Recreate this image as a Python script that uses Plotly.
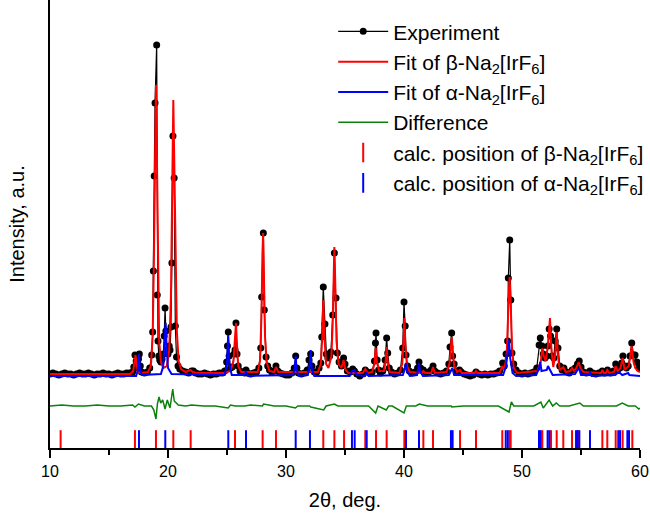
import plotly.graph_objects as go

# ---- data (2theta in deg, intensity in arbitrary units) ----
experiment_pts = [
    (10.0, 2), (10.25, 3), (10.5, 2), (10.75, 1), (11.0, 2), (11.25, 3), (11.5, 2), (11.75, 2),
    (12.0, 1), (12.25, 2), (12.5, 3), (12.75, 2), (13.0, 2), (13.25, 3), (13.5, 2), (13.75, 1),
    (14.0, 2), (14.25, 2), (14.5, 3), (14.75, 2), (15.0, 2), (15.25, 1), (15.5, 2), (15.75, 3),
    (16.0, 2), (16.25, 2), (16.5, 3), (16.75, 3),
    (17.0, 4), (17.1, 9), (17.2, 21), (17.3, 15), (17.4, 8), (17.5, 17), (17.57, 22), (17.65, 10),
    (17.75, 4), (18.0, 3), (18.25, 4), (18.45, 8), (18.62, 21), (18.7, 44), (18.76, 105),
    (18.83, 200), (18.9, 273), (19.04, 331), (19.09, 81), (19.15, 35), (19.22, 20), (19.3, 16),
    (19.4, 14), (19.5, 17), (19.6, 22), (19.68, 40), (19.75, 68), (19.82, 45), (19.9, 26),
    (20.0, 22), (20.1, 30), (20.17, 26), (20.25, 49), (20.33, 113), (20.42, 240), (20.52, 198),
    (20.62, 50), (20.72, 19), (20.85, 10), (21.0, 7), (21.25, 5), (21.5, 4), (21.75, 3),
    (22.0, 5), (22.15, 5), (22.35, 3), (22.6, 2), (22.85, 2), (23.1, 3), (23.35, 2), (23.6, 1),
    (23.85, 2), (24.1, 2), (24.35, 3), (24.6, 3), (24.8, 5), (24.97, 14), (25.04, 30),
    (25.11, 44), (25.18, 20), (25.3, 8), (25.45, 9), (25.6, 22), (25.68, 26), (25.76, 53),
    (25.85, 22), (25.95, 10), (26.1, 5), (26.3, 4), (26.5, 3), (26.61, 6), (26.75, 3), (27.0, 2),
    (27.25, 3), (27.5, 4), (27.7, 8), (27.86, 28), (27.94, 79), (28.08, 143), (28.16, 66),
    (28.31, 19), (28.45, 10), (28.6, 6), (28.8, 4), (29.0, 5), (29.15, 10), (29.3, 5), (29.5, 3),
    (29.75, 2), (30.0, 1), (30.25, 1), (30.5, 3), (30.7, 8), (30.82, 20), (30.92, 8), (31.05, 3),
    (31.3, 2), (31.55, 3), (31.8, 6), (31.95, 16), (32.09, 22), (32.2, 10), (32.4, 4), (32.6, 4),
    (32.8, 8), (32.95, 13), (33.03, 39), (33.16, 89), (33.3, 52), (33.42, 22), (33.55, 18),
    (33.7, 20), (33.81, 24), (33.96, 61), (34.1, 123), (34.24, 78), (34.35, 23), (34.5, 14),
    (34.7, 10), (34.88, 18), (35.0, 12), (35.2, 5), (35.45, 4), (35.65, 7), (35.8, 5), (36.0, 2),
    (36.25, 0), (36.5, 2), (36.72, 6), (36.9, 4), (37.1, 3), (37.3, 4), (37.5, 15), (37.58, 33),
    (37.63, 43), (37.72, 16), (37.85, 6), (38.0, 3), (38.2, 5), (38.4, 16), (38.53, 38),
    (38.62, 23), (38.75, 8), (38.95, 4), (39.2, 2), (39.45, 3), (39.7, 6), (39.89, 28),
    (40.0, 74), (40.1, 50), (40.17, 21), (40.3, 10), (40.45, 5), (40.7, 3), (40.95, 4),
    (41.15, 8), (41.27, 14), (41.4, 8), (41.64, 6), (41.85, 3), (42.1, 4), (42.3, 6), (42.46, 10),
    (42.6, 5), (42.85, 3), (43.1, 2), (43.35, 3), (43.6, 5), (43.8, 12), (43.9, 29), (44.04, 43),
    (44.12, 20), (44.25, 12), (44.45, 5), (44.7, 6), (44.85, 4), (45.1, 2), (45.35, 1), (45.6, 0),
    (45.85, 1), (46.1, 4), (46.35, 2), (46.6, 1), (46.85, 2), (47.1, 1), (47.35, 2), (47.6, 2),
    (47.85, 3), (48.1, 5), (48.36, 13), (48.5, 10), (48.65, 22), (48.78, 35), (48.84, 98),
    (48.96, 136), (49.05, 76), (49.15, 23), (49.3, 12), (49.5, 6), (49.75, 3), (50.0, 2),
    (50.25, 3), (50.5, 2), (50.75, 3), (51.0, 4), (51.25, 8), (51.45, 31), (51.55, 38),
    (51.7, 30), (51.8, 22), (51.95, 18), (52.1, 20), (52.2, 30), (52.3, 47), (52.42, 40),
    (52.55, 20), (52.7, 18), (52.8, 35), (52.94, 47), (53.05, 28), (53.2, 10), (53.4, 6),
    (53.55, 8), (53.75, 4), (54.0, 3), (54.25, 6), (54.5, 8), (54.7, 12), (54.85, 15), (55.0, 9),
    (55.2, 4), (55.45, 3), (55.75, 5), (56.0, 3), (56.25, 2), (56.5, 3), (56.8, 5), (57.0, 3),
    (57.25, 6), (57.5, 3), (57.75, 5), (57.94, 12), (58.1, 6), (58.3, 8), (58.45, 13),
    (58.55, 20), (58.7, 10), (58.85, 8), (59.0, 10), (59.15, 20), (59.3, 33), (59.45, 21),
    (59.58, 21), (59.72, 14), (59.86, 13), (59.95, 8),
]

fit_beta_pts = [
    (10.0, 2), (16.8, 2), (17.05, 5), (17.17, 14), (17.25, 21), (17.33, 12), (17.45, 4), (17.7, 3),
    (18.3, 4), (18.55, 10), (18.7, 40), (18.8, 110), (18.9, 240), (18.98, 291), (19.06, 220),
    (19.15, 90), (19.25, 35), (19.4, 14), (19.6, 8), (19.9, 10), (20.1, 25), (20.25, 80),
    (20.35, 180), (20.45, 276), (20.55, 200), (20.65, 110), (20.75, 45), (20.9, 15), (21.1, 7),
    (21.5, 4), (21.9, 6), (22.1, 4), (22.4, 3), (24.8, 3), (25.3, 5), (25.55, 15), (25.7, 40),
    (25.76, 53), (25.85, 30), (25.95, 10), (26.2, 4), (27.6, 4), (27.8, 15), (27.92, 60),
    (28.0, 120), (28.06, 143), (28.13, 100), (28.22, 40), (28.35, 14), (28.6, 5), (29.0, 4),
    (29.15, 9), (29.35, 4), (32.7, 4), (32.95, 12), (33.08, 40), (33.16, 76), (33.25, 40),
    (33.4, 12), (33.6, 8), (33.85, 20), (33.98, 60), (34.06, 110), (34.1, 129), (34.17, 95),
    (34.28, 35), (34.45, 12), (34.7, 8), (34.88, 16), (35.05, 6), (35.3, 3), (36.5, 3),
    (36.72, 7), (36.9, 3), (37.3, 4), (37.5, 12), (37.6, 28), (37.7, 14), (37.9, 5), (38.3, 5),
    (38.45, 15), (38.53, 29), (38.62, 14), (38.8, 4), (39.6, 3), (39.85, 12), (39.96, 35),
    (40.03, 58), (40.1, 35), (40.25, 10), (40.5, 4), (41.5, 3), (41.64, 5), (41.8, 3),
    (42.3, 3), (42.46, 9), (42.6, 3), (43.6, 4), (43.85, 12), (43.98, 30), (44.05, 39),
    (44.12, 28), (44.25, 10), (44.5, 4), (44.75, 6), (44.9, 3), (46.0, 3), (46.1, 5), (46.2, 3),
    (48.1, 3), (48.33, 10), (48.5, 6), (48.7, 20), (48.85, 70), (48.95, 99), (49.05, 70),
    (49.15, 30), (49.3, 8), (49.6, 3), (51.3, 5), (51.6, 15), (51.72, 28), (51.85, 20),
    (52.0, 15), (52.2, 30), (52.37, 58), (52.5, 25), (52.65, 9), (52.8, 20), (52.94, 44),
    (53.05, 20), (53.2, 6), (53.5, 9), (53.7, 4), (54.1, 5), (54.24, 8), (54.4, 5), (54.6, 8),
    (54.8, 14), (54.95, 8), (55.2, 4), (56.7, 3), (56.81, 6), (56.95, 3), (57.1, 3), (57.23, 6),
    (57.4, 3), (57.8, 4), (57.94, 10), (58.1, 5), (58.35, 8), (58.53, 18), (58.7, 6),
    (59.05, 10), (59.3, 30), (59.45, 14), (59.6, 8), (59.8, 5), (60.0, 4),
]

fit_alpha_pts = [
    (10.0, 0), (17.3, 0), (17.45, 6), (17.55, 22), (17.63, 6), (17.8, 1), (19.4, 2), (19.6, 10),
    (19.72, 35), (19.8, 53), (19.88, 30), (20.0, 8), (20.3, 2), (24.8, 1), (25.0, 12),
    (25.1, 41), (25.2, 12), (25.4, 1), (26.45, 1), (26.61, 4), (26.8, 0), (30.6, 1), (30.75, 8),
    (30.82, 20), (30.9, 6), (31.1, 0), (31.85, 1), (32.0, 10), (32.09, 26), (32.17, 8), (32.4, 0),
    (35.4, 0), (35.6, 5), (35.8, 6), (36.0, 1), (36.7, 0), (36.84, 3), (37.0, 0), (39.9, 1),
    (40.1, 8), (40.17, 13), (40.25, 5), (40.5, 0), (41.1, 1), (41.2, 7), (41.27, 13), (41.35, 5),
    (41.6, 0), (43.8, 1), (44.0, 7), (44.1, 8), (44.25, 1), (48.4, 1), (48.65, 10), (48.8, 30),
    (48.9, 36), (49.0, 18), (49.2, 3), (49.5, 0), (51.2, 1), (51.45, 8), (51.55, 14), (51.65, 5),
    (52.1, 6), (52.2, 10), (52.35, 6), (52.6, 1), (54.5, 2), (54.7, 6), (54.85, 7), (55.0, 1),
    (55.7, 1), (55.76, 4), (55.9, 0), (57.9, 1), (58.1, 3), (58.3, 3), (58.5, 1), (58.9, 2),
    (59.0, 3), (59.1, 1), (60.0, 0),
]

difference_pts = [
    (10.0, -30), (11.0, -29), (12.0, -30), (13.0, -30), (14.0, -29), (15.0, -30), (16.0, -30),
    (17.0, -29), (17.2, -31), (17.5, -28), (18.0, -30), (18.6, -30), (18.8, -34), (18.98, -43),
    (19.1, -28), (19.24, -21), (19.38, -27), (19.55, -24), (19.75, -33), (19.94, -24),
    (20.17, -32), (20.4, -13), (20.53, -25), (20.87, -29), (21.5, -30), (22.0, -29), (23.0, -30),
    (24.0, -30), (25.1, -32), (25.3, -29), (25.7, -30), (26.5, -30), (27.0, -29), (28.0, -30),
    (28.1, -28), (29.0, -30), (30.0, -30), (30.8, -32), (31.0, -30), (32.0, -30), (32.1, -31),
    (33.2, -34), (33.4, -30), (34.1, -28), (34.4, -30), (35.0, -30), (36.0, -30), (37.0, -30),
    (37.6, -37), (37.8, -30), (38.5, -34), (38.7, -30), (39.0, -30), (40.0, -37), (40.2, -30),
    (41.0, -30), (41.3, -28), (42.0, -30), (43.0, -30), (44.0, -30), (44.05, -31), (45.0, -30),
    (46.0, -30), (47.0, -30), (48.0, -30), (48.9, -36), (49.1, -26), (49.3, -30), (50.0, -30),
    (51.0, -30), (51.6, -26), (51.8, -32), (52.3, -24), (52.6, -30), (52.9, -27), (53.2, -30),
    (54.0, -30), (54.9, -27), (55.2, -30), (56.0, -30), (57.0, -30), (58.0, -30), (58.5, -27),
    (59.0, -30), (59.6, -30), (59.9, -33), (60.0, -32),
]

calc_beta_pos = [10.90, 17.20, 18.98, 20.45, 21.92, 25.68, 28.02, 29.15, 33.16, 34.10, 34.92,
                 36.72, 37.63, 38.53, 40.03, 41.64, 42.46, 44.75, 46.10, 48.33, 48.93, 49.04,
                 51.72, 52.46, 52.94, 53.50, 54.24, 54.75, 56.81, 57.23, 57.94, 58.53, 59.35]
calc_alpha_pos = [17.54, 19.77, 25.11, 26.61, 30.82, 32.03, 35.59, 35.82, 36.84, 40.17, 41.27,
                  43.98, 44.12, 48.62, 48.79, 51.44, 51.58, 52.17, 52.31, 54.58, 54.69, 54.86,
                  55.76, 58.16, 58.31, 58.93, 59.07]

x_ticks = [10, 20, 30, 40, 50, 60]

exp_x, exp_y = zip(*experiment_pts)
fb_x, fb_y = zip(*fit_beta_pts)
fa_x, fa_y = zip(*fit_alpha_pts)
d_x, d_y = zip(*difference_pts)

TICK_ROW = -64  # vertical placement of the reflection-marker row

fig = go.Figure()
fig.add_trace(go.Scatter(
    x=exp_x, y=exp_y, mode="lines+markers", name="Experiment",
    line=dict(color="black", width=1.2),
    marker=dict(color="black", size=7, symbol="circle"),
))
fig.add_trace(go.Scatter(
    x=fb_x, y=fb_y, mode="lines", name="Fit of β-Na<sub>2</sub>[IrF<sub>6</sub>]",
    line=dict(color="#ff0000", width=2),
))
fig.add_trace(go.Scatter(
    x=fa_x, y=fa_y, mode="lines", name="Fit of α-Na<sub>2</sub>[IrF<sub>6</sub>]",
    line=dict(color="#0000ff", width=2),
))
fig.add_trace(go.Scatter(
    x=d_x, y=d_y, mode="lines", name="Difference",
    line=dict(color="#0a820a", width=1.5),
))
fig.add_trace(go.Scatter(
    x=calc_beta_pos, y=[TICK_ROW] * len(calc_beta_pos), mode="markers",
    name="calc. position of β-Na<sub>2</sub>[IrF<sub>6</sub>]",
    marker=dict(symbol="line-ns", size=14, color="#ff0000",
                line=dict(color="#ff0000", width=2)),
))
fig.add_trace(go.Scatter(
    x=calc_alpha_pos, y=[TICK_ROW] * len(calc_alpha_pos), mode="markers",
    name="calc. position of α-Na<sub>2</sub>[IrF<sub>6</sub>]",
    marker=dict(symbol="line-ns", size=14, color="#0000ff",
                line=dict(color="#0000ff", width=2)),
))

fig.update_layout(
    width=650, height=514,
    margin=dict(l=50, r=10, t=0, b=66, autoexpand=False),
    plot_bgcolor="white", paper_bgcolor="white",
    font=dict(family="Liberation Sans, Arial, sans-serif", color="black", size=16),
    legend=dict(
        x=0.48, y=0.975, xanchor="left", yanchor="top",
        font=dict(size=21), bgcolor="rgba(0,0,0,0)", tracegroupgap=0,
        itemwidth=50,
    ),
    xaxis=dict(
        range=[10, 60], tickvals=x_ticks, ticks="outside", ticklen=8, tickwidth=1.5,
        tickcolor="black", showline=True, linecolor="black", linewidth=1.5,
        showgrid=False, zeroline=False, tickfont=dict(size=16),
        minor=dict(ticks="outside", ticklen=5, tickwidth=1.5, dtick=5, tickcolor="black",
                   showgrid=False),
        title=dict(text="2θ, deg.", font=dict(size=20), standoff=14),
    ),
    yaxis=dict(
        range=[-72, 376], showticklabels=False, ticks="", showline=True,
        linecolor="black", linewidth=1.5, showgrid=False, zeroline=False,
        title=dict(text="Intensity, a.u.", font=dict(size=20), standoff=18),
    ),
)

fig.write_html(
    "out.html",
    config={"displayModeBar": False},
    post_script="document.body.style.margin='0';document.body.style.padding='0';",
)
